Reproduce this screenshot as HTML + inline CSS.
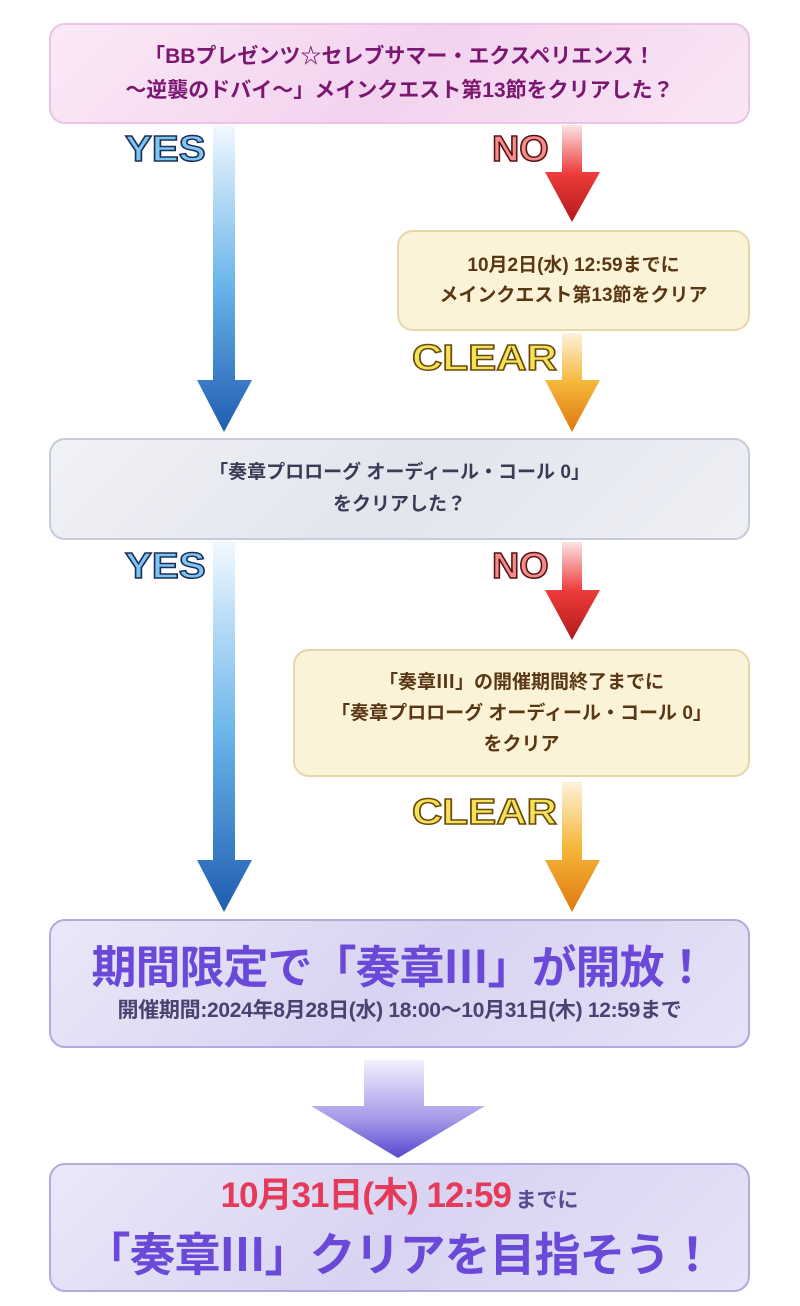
<!DOCTYPE html>
<html><head><meta charset="utf-8"><style>
body{margin:0;width:800px;height:1306px;background:#fff;position:relative;overflow:hidden;font-family:"Liberation Sans","Noto Sans CJK JP",sans-serif;font-weight:bold}
.b{position:absolute;box-sizing:border-box;border-radius:16px;display:flex;flex-direction:column;align-items:center;justify-content:center;text-align:center}
.lbl{position:absolute;font-family:"Liberation Sans",sans-serif;font-weight:900;font-size:36px;line-height:40px;letter-spacing:0px;-webkit-text-stroke:1.5px #1d2d55;transform-origin:left top}
svg{position:absolute;left:0;top:0}
</style></head><body>
<svg width="800" height="1306">
<defs>
<linearGradient id="bl" x1="0" y1="0" x2="0" y2="1"><stop offset="0" stop-color="#f2f8ff"/><stop offset=".5" stop-color="#6fb8ec"/><stop offset="1" stop-color="#1f5db0"/></linearGradient>
<linearGradient id="rd" x1="0" y1="0" x2="0" y2="1"><stop offset="0" stop-color="#fbe4e4"/><stop offset=".5" stop-color="#ee3b3b"/><stop offset="1" stop-color="#b21919"/></linearGradient>
<linearGradient id="or" x1="0" y1="0" x2="0" y2="1"><stop offset="0" stop-color="#fdf2dc"/><stop offset=".5" stop-color="#f5b73a"/><stop offset="1" stop-color="#e0780f"/></linearGradient>
<linearGradient id="pu" x1="0" y1="0" x2="0" y2="1"><stop offset="0" stop-color="#f3f0fc"/><stop offset=".6" stop-color="#a59ae8"/><stop offset="1" stop-color="#5648cf"/></linearGradient>
</defs>
<path d="M213 125h22v255h17l-28 52-27-52h16z" fill="url(#bl)"/>
<path d="M562 125h20v47h18l-28 50-27-50h17z" fill="url(#rd)"/>
<path d="M562 333h20v47h18l-28 52-27-52h17z" fill="url(#or)"/>
<path d="M213 542h22v318h17l-28 52-27-52h16z" fill="url(#bl)"/>
<path d="M562 542h20v48h18l-28 50-27-50h17z" fill="url(#rd)"/>
<path d="M562 782h20v78h18l-28 52-27-52h17z" fill="url(#or)"/>
<path d="M364 1060h60v46h61l-87 52-87-52h53z" fill="url(#pu)"/>
</svg>
<div class="b" style="left:49px;top:23px;width:701px;height:101px;background:linear-gradient(135deg,#fbe9f7,#f2d3ee 50%,#f9e6f5);border:2px solid #ebc3e4;color:#7b1770;font-size:21px;line-height:34px">「BBプレゼンツ☆セレブサマー・エクスペリエンス！<br>～逆襲のドバイ～」メインクエスト第13節をクリアした？</div>
<div class="lbl" style="left:125px;top:129px;color:#7cc6f2;transform:scaleX(1.12)">YES</div>
<div class="lbl" style="left:492px;top:129px;color:#f28d8d;-webkit-text-stroke-color:#5a1010;transform:scaleX(1.05)">NO</div>
<div class="b" style="left:397px;top:230px;width:353px;height:101px;background:#fbf3d8;border:2px solid #e6d6a8;color:#5a3714;font-size:19px;line-height:30px">10月2日(水) 12:59までに<br>メインクエスト第13節をクリア</div>
<div class="lbl" style="left:412px;top:338px;color:#f6e15a;-webkit-text-stroke-color:#6a4a08;transform:scaleX(1.17)">CLEAR</div>
<div class="b" style="left:49px;top:438px;width:701px;height:102px;background:linear-gradient(135deg,#f1f2f6,#e3e5ee 50%,#eef0f5);border:2px solid #c8cbda;color:#3b3b55;font-size:19px;line-height:32px">「奏章プロローグ オーディール・コール 0」<br>をクリアした？</div>
<div class="lbl" style="left:125px;top:546px;color:#7cc6f2;transform:scaleX(1.12)">YES</div>
<div class="lbl" style="left:492px;top:546px;color:#f28d8d;-webkit-text-stroke-color:#5a1010;transform:scaleX(1.05)">NO</div>
<div class="b" style="left:293px;top:649px;width:457px;height:128px;background:#fbf3d8;border:2px solid #e6d6a8;color:#5a3714;font-size:19px;line-height:31px">「奏章Ⅲ」の開催期間終了までに<br>「奏章プロローグ オーディール・コール 0」<br>をクリア</div>
<div class="lbl" style="left:412px;top:792px;color:#f6e15a;-webkit-text-stroke-color:#6a4a08;transform:scaleX(1.17)">CLEAR</div>
<div class="b" style="left:49px;top:919px;width:701px;height:129px;background:linear-gradient(135deg,#ebe8f8,#d8d3f1 50%,#e6e2f7);border:2px solid #b3a8e0">
<div style="font-size:45px;color:#6a48d8;line-height:54px;letter-spacing:-1px">期間限定で「奏章Ⅲ」が開放！</div>
<div style="font-size:21px;color:#4a4270;line-height:32px;letter-spacing:-0.3px">開催期間:2024年8月28日(水) 18:00～10月31日(木) 12:59まで</div></div>
<div class="b" style="left:49px;top:1163px;width:701px;height:129px;background:linear-gradient(135deg,#ebe8f8,#d8d3f1 50%,#e6e2f7);border:2px solid #b3a8e0">
<div style="line-height:48px"><span style="font-size:35px;color:#e63a5a;letter-spacing:-1px">10月31日(木) 12:59</span> <span style="font-size:21px;color:#5a4a90">までに</span></div>
<div style="font-size:46px;color:#6a48d8;line-height:56px;letter-spacing:-1px">「奏章Ⅲ」クリアを目指そう！</div></div>
</body></html>
